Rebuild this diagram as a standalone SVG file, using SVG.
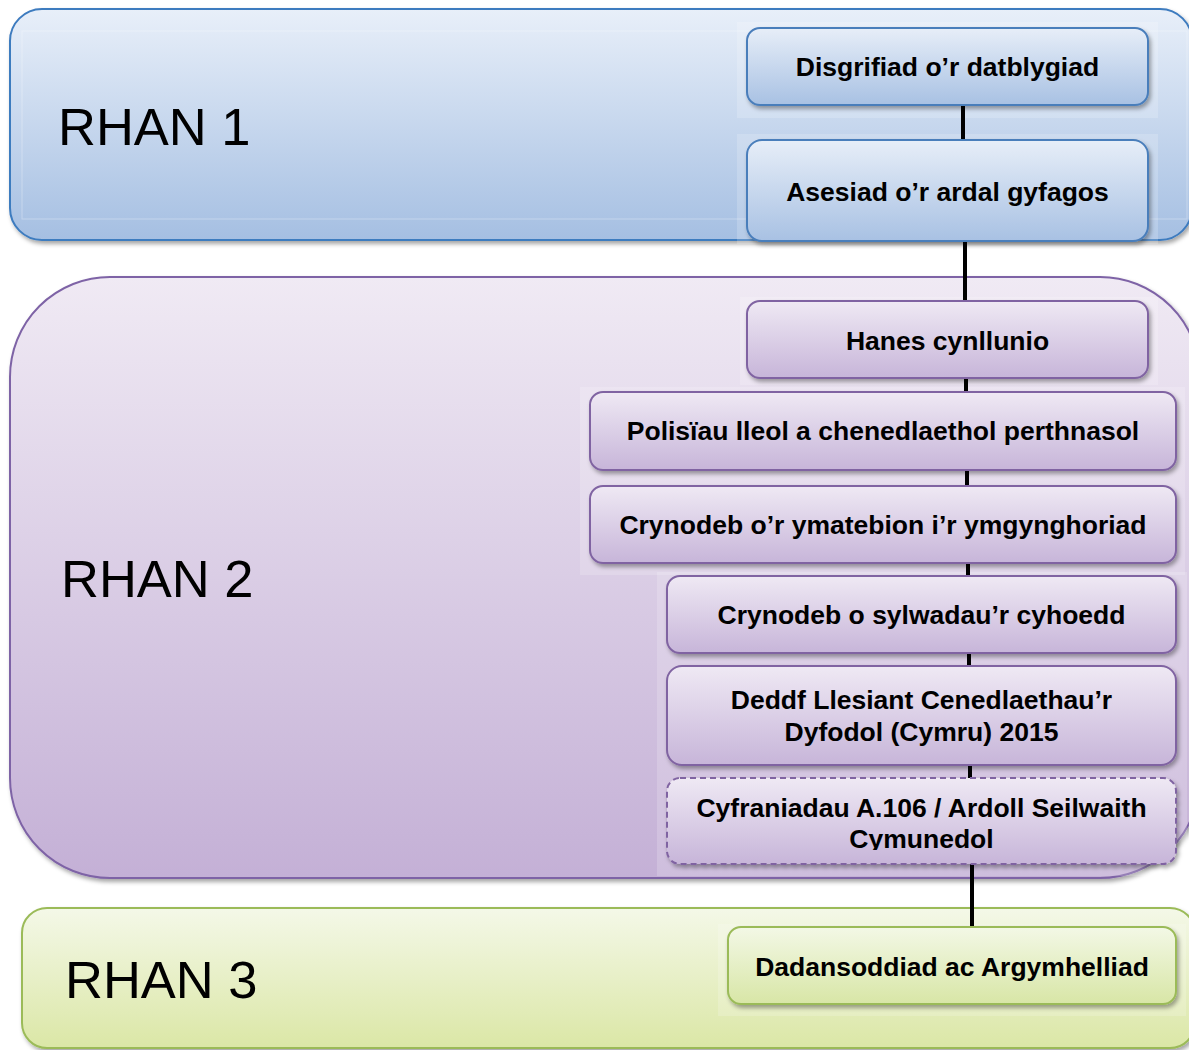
<svg xmlns="http://www.w3.org/2000/svg" width="1189" height="1050" viewBox="0 0 1189 1050">
<defs>
<linearGradient id="gBluePanel" x1="0" y1="0" x2="0" y2="1"><stop offset="0" stop-color="#e8eff9"/><stop offset="1" stop-color="#a5bfe2"/></linearGradient>
<linearGradient id="gPurplePanel" x1="0" y1="0" x2="0" y2="1"><stop offset="0" stop-color="#f0eaf4"/><stop offset="1" stop-color="#c4b0d6"/></linearGradient>
<linearGradient id="gGreenPanel" x1="0" y1="0" x2="0" y2="1"><stop offset="0" stop-color="#f4f8e8"/><stop offset="1" stop-color="#dbe7a6"/></linearGradient>
<linearGradient id="gBlue" x1="0" y1="0" x2="0" y2="1"><stop offset="0" stop-color="#e7eef8"/><stop offset="1" stop-color="#a8c1e3"/></linearGradient>
<linearGradient id="gPurple" x1="0" y1="0" x2="0" y2="1"><stop offset="0" stop-color="#efe9f4"/><stop offset="1" stop-color="#c7b5d9"/></linearGradient>
<linearGradient id="gGreen" x1="0" y1="0" x2="0" y2="1"><stop offset="0" stop-color="#f3f8e6"/><stop offset="1" stop-color="#d8e6a6"/></linearGradient>
<filter id="shadow" x="-5%" y="-10%" width="110%" height="130%"><feDropShadow dx="2" dy="3" stdDeviation="2" flood-color="#000" flood-opacity="0.35"/></filter>
<clipPath id="clipCyf"><rect x="660" y="775" width="530" height="75"/></clipPath>
</defs>
<style>
.panel-label{font-family:"Liberation Sans",Arial,sans-serif;font-size:52.5px;fill:#000}
.node-text{font-family:"Liberation Sans",Arial,sans-serif;font-size:26.5px;font-weight:bold;fill:#000;text-anchor:middle}
.blue{fill:url(#gBlue);stroke:#4a7ebb;stroke-width:2}
.purple{fill:url(#gPurple);stroke:#8064a2;stroke-width:2}
.green{fill:url(#gGreen);stroke:#9bbb59;stroke-width:2}
.conn{stroke:#000;stroke-width:4;fill:none}
.ghost{fill:#ffffff;fill-opacity:0.18}
</style>

<g id="panel-rhan1">
<rect x="10" y="9" width="1182" height="231" rx="32" fill="url(#gBluePanel)" stroke="#3e7bbf" stroke-width="2" filter="url(#shadow)"/>
<rect x="22" y="31" width="1165" height="188" fill="none" stroke="#ffffff" stroke-opacity="0.3"/>
<text class="panel-label" x="58" y="145">RHAN 1</text>
</g>
<g id="panel-rhan2">
<rect x="10" y="277" width="1190" height="601" rx="100" fill="url(#gPurplePanel)" stroke="#7e63a6" stroke-width="2" filter="url(#shadow)"/>
<text class="panel-label" x="61" y="597">RHAN 2</text>
</g>
<g id="panel-rhan3">
<rect x="22" y="908" width="1173" height="140" rx="25" fill="url(#gGreenPanel)" stroke="#9bbb59" stroke-width="2" filter="url(#shadow)"/>
<text class="panel-label" x="65" y="998">RHAN 3</text>
</g>

<g id="ghosts">
<rect class="ghost" x="737" y="22" width="421" height="96"/>
<rect class="ghost" x="737" y="134" width="421" height="110"/>
<rect class="ghost" x="740" y="297" width="418" height="88"/>
<rect class="ghost" x="580" y="387" width="605" height="188"/>
<rect class="ghost" x="657" y="572" width="530" height="304"/>
<rect class="ghost" x="718" y="924" width="468" height="92"/>
</g>

<g id="connectors">
<line class="conn" x1="963" y1="104" x2="963" y2="141"/>
<line class="conn" x1="965" y1="240" x2="965" y2="302"/>
<line class="conn" x1="966" y1="377" x2="966" y2="393"/>
<line class="conn" x1="967" y1="469" x2="967" y2="487"/>
<line class="conn" x1="968" y1="562" x2="968" y2="577"/>
<line class="conn" x1="969" y1="652" x2="969" y2="667"/>
<line class="conn" x1="970" y1="764" x2="970" y2="779"/>
<line class="conn" x1="972" y1="863" x2="972" y2="928"/>
</g>

<g id="node-disgrifiad">
<rect class="blue" x="747" y="28" width="401" height="77" rx="13" filter="url(#shadow)"/>
<text class="node-text" x="947.5" y="76">Disgrifiad o’r datblygiad</text>
</g>
<g id="node-asesiad">
<rect class="blue" x="747" y="140" width="401" height="101" rx="15" filter="url(#shadow)"/>
<text class="node-text" x="947.5" y="201">Asesiad o’r ardal gyfagos</text>
</g>
<g id="node-hanes">
<rect class="purple" x="747" y="301" width="401" height="77" rx="13" filter="url(#shadow)"/>
<text class="node-text" x="947.5" y="350">Hanes cynllunio</text>
</g>
<g id="node-polisiau">
<rect class="purple" x="590" y="392" width="586" height="78" rx="13" filter="url(#shadow)"/>
<text class="node-text" x="883" y="440">Polisïau lleol a chenedlaethol perthnasol</text>
</g>
<g id="node-ymatebion">
<rect class="purple" x="590" y="486" width="586" height="77" rx="13" filter="url(#shadow)"/>
<text class="node-text" x="883" y="534">Crynodeb o’r ymatebion i’r ymgynghoriad</text>
</g>
<g id="node-sylwadau">
<rect class="purple" x="667" y="576" width="509" height="77" rx="13" filter="url(#shadow)"/>
<text class="node-text" x="921.5" y="624">Crynodeb o sylwadau’r cyhoedd</text>
</g>
<g id="node-deddf">
<rect class="purple" x="667" y="666" width="509" height="99" rx="15" filter="url(#shadow)"/>
<text class="node-text" x="921.5" y="709">Deddf Llesiant Cenedlaethau’r</text>
<text class="node-text" x="921.5" y="741">Dyfodol (Cymru) 2015</text>
</g>
<g id="node-cyfraniadau">
<rect class="purple" x="667" y="778" width="509" height="86" rx="13" stroke-dasharray="6 4" filter="url(#shadow)"/>
<g clip-path="url(#clipCyf)">
<text class="node-text" x="921.5" y="817">Cyfraniadau A.106 / Ardoll Seilwaith</text>
<text class="node-text" x="921.5" y="848">Cymunedol</text>
</g>
</g>
<g id="node-dadansoddiad">
<rect class="green" x="728" y="927" width="448" height="77" rx="13" filter="url(#shadow)"/>
<text class="node-text" x="952" y="976">Dadansoddiad ac Argymhelliad</text>
</g>
</svg>
